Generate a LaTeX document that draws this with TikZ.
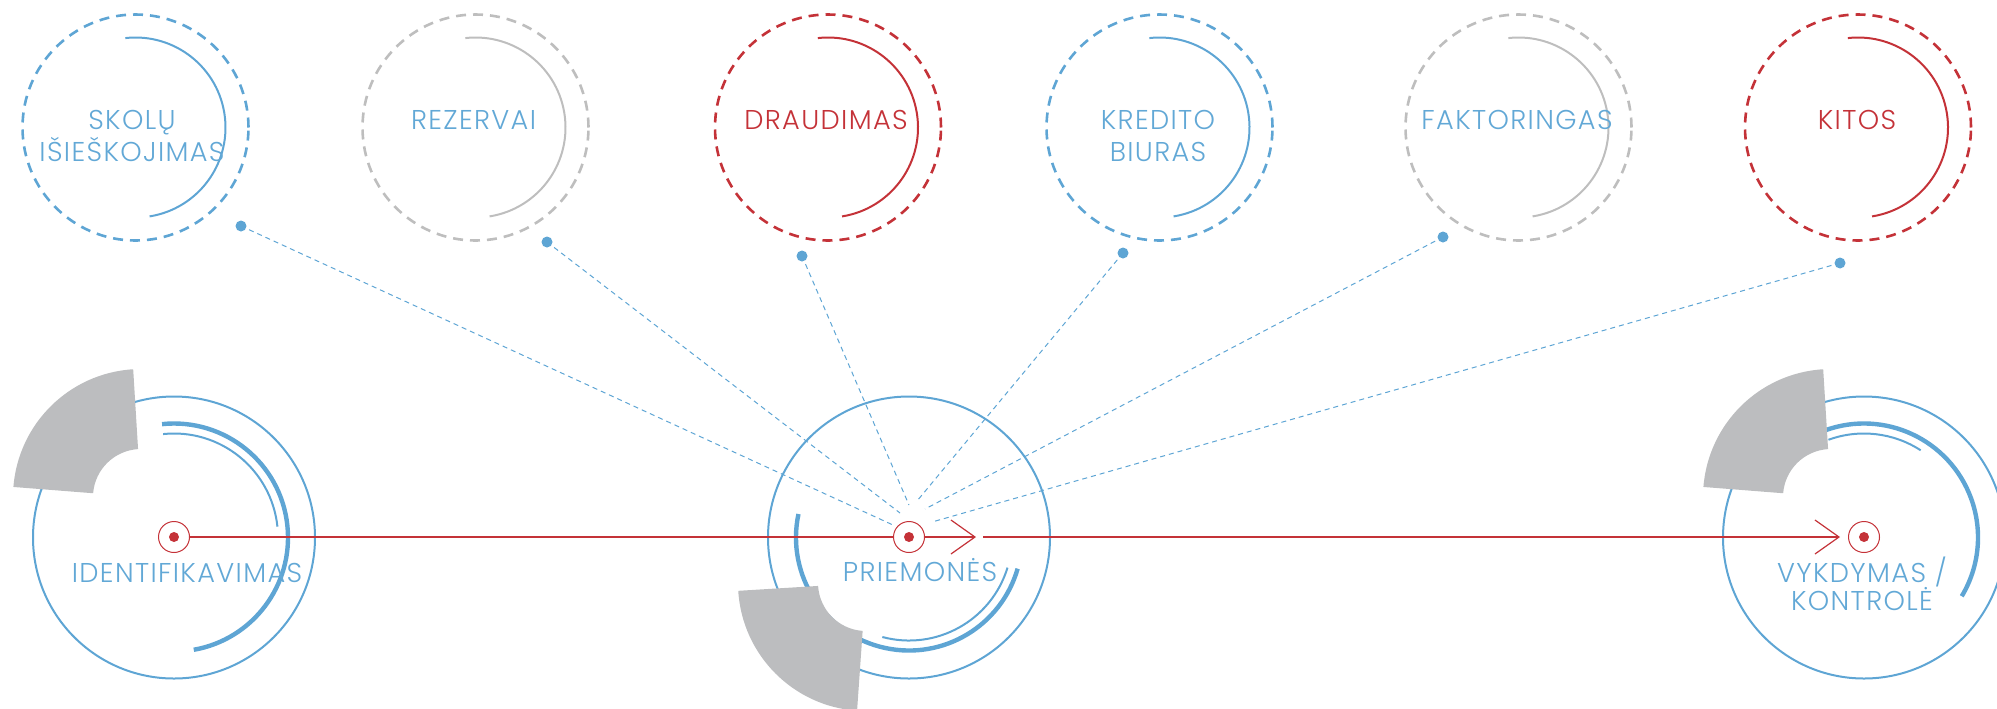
\documentclass[tikz,border=0pt]{standalone}
\usepackage{fontspec}
\setmainfont{Poppins Light}[LetterSpace=5]
\usetikzlibrary{calc,arrows.meta}
\definecolor{cblue}{RGB}{94,165,212}
\definecolor{ctext}{RGB}{98,168,214}
\definecolor{cred}{RGB}{196,50,56}
\definecolor{cgray}{RGB}{190,190,190}
\definecolor{csect}{RGB}{188,189,191}
\begin{document}
\begin{tikzpicture}[x=0.5pt,y=-0.5pt,
  dashring/.style={circle, draw, dash pattern=on 5pt off 3.5pt, line width=1.3pt, minimum size=113pt, inner sep=0pt},
  innerarc/.style={line width=1pt},
  lbl/.style={font=\fontsize{13.6}{16}\selectfont, align=center, anchor=base, inner sep=0pt},
  blbl/.style={font=\fontsize{13.6}{14}\selectfont, align=center, anchor=base, inner sep=0pt},
  dot/.style={circle, fill=cblue, minimum size=5.5pt, inner sep=0pt},
  conn/.style={draw=cblue, line width=0.5pt, dash pattern=on 2.5pt off 2pt, shorten <=1.5pt},
  bigring/.style={circle, draw=cblue, line width=1pt, minimum size=141pt, inner sep=0pt},
  thickarc/.style={draw=cblue, line width=2.2pt},
  thinarc/.style={draw=cblue, line width=1pt},
  target/.style={circle, draw=cred, line width=0.5pt, minimum size=15.5pt, inner sep=0pt,
    path picture={\fill[cred] (path picture bounding box.center) circle (2.5pt);}},
  redline/.style={draw=cred, line width=0.6pt},
  chev/.style={-{Straight Barb[length=12pt,width=17pt,line width=0.6pt]}},
  sector/.style={fill=csect}
]
\useasboundingbox (0,0) rectangle (1997,708);
\clip (0,0) rectangle (1997,708);

% ---- top rings ----
\node[dashring, draw=cblue] (r1) at (135.5,127.5) {};
\draw[innerarc, cblue] (r1.center) ++(-96.5:90) arc[start angle=-96.5, end angle=81, radius=90];
\node[lbl, text=ctext] (l1) at (132,161) {SKOLŲ\\IŠIEŠKOJIMAS};

\node[dashring, draw=cgray] (r2) at (475.5,127.5) {};
\draw[innerarc, cgray] (r2.center) ++(-96.5:90) arc[start angle=-96.5, end angle=81, radius=90];
\node[lbl, text=ctext] (l2) at (473.5,129) {REZERVAI};

\node[dashring, draw=cred] (r3) at (828,127.5) {};
\draw[innerarc, cred] (r3.center) ++(-96.5:90) arc[start angle=-96.5, end angle=81, radius=90];
\node[lbl, text=cred] (l3) at (826,129) {DRAUDIMAS};

\node[dashring, draw=cblue] (r4) at (1159.5,127.5) {};
\draw[innerarc, cblue] (r4.center) ++(-96.5:90) arc[start angle=-96.5, end angle=81, radius=90];
\node[lbl, text=ctext] (l4) at (1158,161) {KREDITO\\BIURAS};

\node[dashring, draw=cgray] (r5) at (1518.5,127.5) {};
\draw[innerarc, cgray] (r5.center) ++(-96.5:90) arc[start angle=-96.5, end angle=81, radius=90];
\node[lbl, text=ctext] (l5) at (1517,129) {FAKTORINGAS};

\node[dashring, draw=cred] (r6) at (1858,127.5) {};
\draw[innerarc, cred] (r6.center) ++(-96.5:90) arc[start angle=-96.5, end angle=81, radius=90];
\node[lbl, text=cred] (l6) at (1857,129) {KITOS};

% ---- dots and dashed connectors ----
\node[dot] (d1) at (241,226) {};
\node[dot] (d2) at (547,242) {};
\node[dot] (d3) at (802,256) {};
\node[dot] (d4) at (1123,253) {};
\node[dot] (d5) at (1443,237) {};
\node[dot] (d6) at (1840,263) {};
\coordinate (e1) at (893,525);
\coordinate (e2) at (900,513);
\coordinate (e3) at (909,505);
\coordinate (e4) at (917,501);
\coordinate (e5) at (925,509);
\coordinate (e6) at (932,522);
\draw[conn] (d1) -- (e1);
\draw[conn] (d2) -- (e2);
\draw[conn] (d3) -- (e3);
\draw[conn] (d4) -- (e4);
\draw[conn] (d5) -- (e5);
\draw[conn] (d6) -- (e6);

% ---- bottom rings ----
\node[bigring] (b1) at (174,537.5) {};
\draw[thickarc] (b1.center) ++(-96:114) arc[start angle=-96, end angle=80, radius=114];
\draw[thinarc] (b1.center) ++(-96:104) arc[start angle=-96, end angle=-6, radius=104];
\fill[sector] ($(141,497)+(-93.5:128)$) arc[start angle=-93.5, end angle=-175.5, radius=128]
  -- ($(141,497)+(-175.5:48)$) arc[start angle=-175.5, end angle=-93.5, radius=48] -- cycle;

\node[bigring] (b2) at (909,537.5) {};
\draw[thickarc] (b2.center) ++(-168:113) arc[start angle=-168, end angle=-344, radius=113];
\draw[thinarc] (b2.center) ++(-255:103) arc[start angle=-255, end angle=-343, radius=103];
\fill[sector] ($(866,583)+(-183.5:128)$) arc[start angle=-183.5, end angle=-266, radius=128]
  -- ($(866,583)+(-266:48)$) arc[start angle=-266, end angle=-183.5, radius=48] -- cycle;

\node[bigring] (b3) at (1864,537.5) {};
\draw[thickarc] (b3.center) ++(-110:114) arc[start angle=-110, end angle=31, radius=114];
\draw[thinarc] (b3.center) ++(-110:104) arc[start angle=-110, end angle=-57, radius=104];
\fill[sector] ($(1831,497)+(-93.5:128)$) arc[start angle=-93.5, end angle=-175.5, radius=128]
  -- ($(1831,497)+(-175.5:48)$) arc[start angle=-175.5, end angle=-93.5, radius=48] -- cycle;

% ---- labels ----
\node[blbl, text=ctext] (lb1) at (187,582) {IDENTIFIKAVIMAS};
\node[blbl, text=ctext] (lb2) at (920,581) {PRIEMONĖS};
\node[blbl, text=ctext] (lb3) at (1862,610) {VYKDYMAS /\\KONTROLĖ};

% ---- targets and red flow ----
\node[target] (t1) at (174,537) {};
\node[target] (t2) at (909,537) {};
\node[target] (t3) at (1864,537) {};
\coordinate (ch1) at (976,537);
\coordinate (ch2) at (1840,537);
\draw[redline] (t1) -- (t2);
\draw[redline, chev] (t2) -- (ch1);
\draw[redline, chev, shorten <=3.5pt] (ch1) -- (ch2);
\end{tikzpicture}
\end{document}
